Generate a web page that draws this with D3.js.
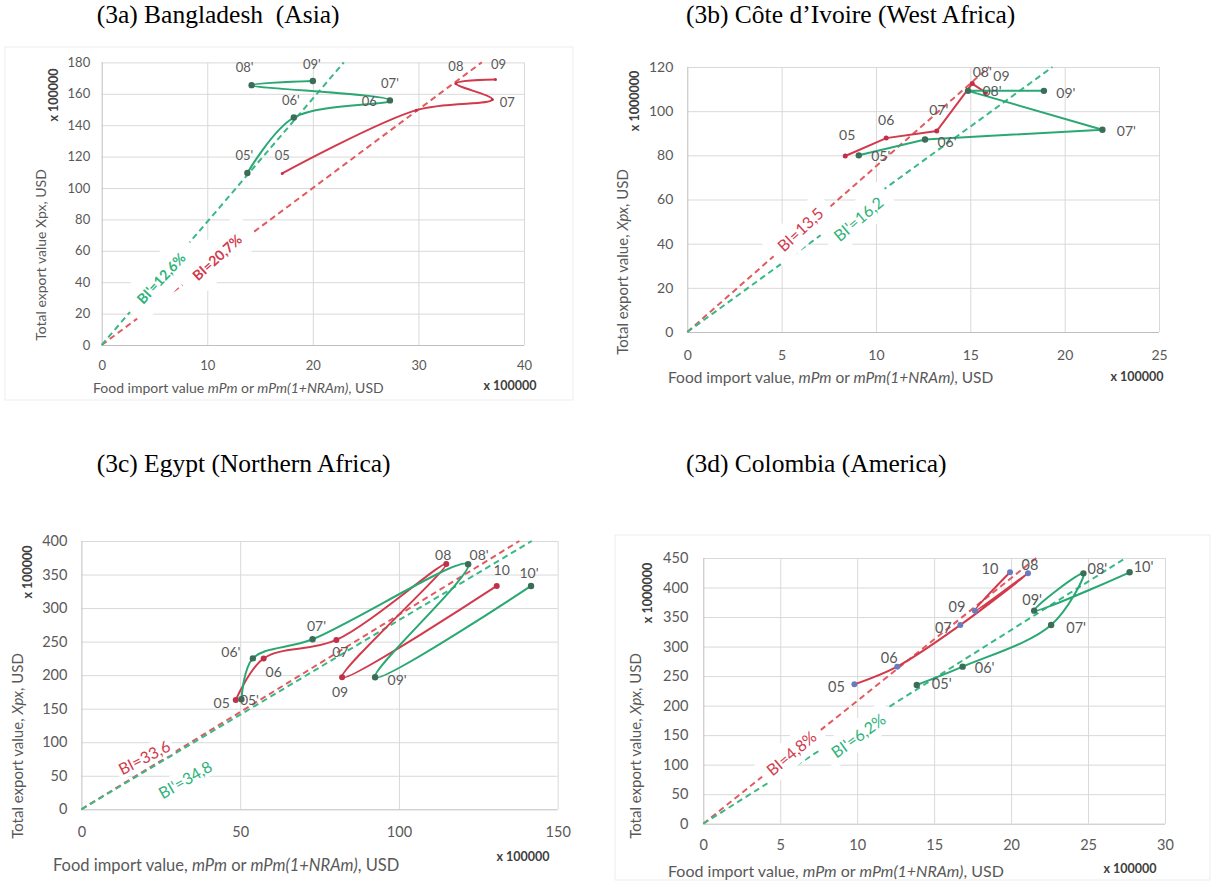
<!DOCTYPE html>
<html>
<head>
<meta charset="utf-8">
<script src="https://cdn.jsdelivr.net/npm/d3@7/dist/d3.min.js"></script>
<style>
  html, body { margin: 0; padding: 0; background: #fff; }
</style>
</head>
<body>
<div id="chart"></div>
<script>
// --- (3a) Bangladesh ---
const bdRedLabels = ["05", "06", "07", "08", "09"];
const bdRedX = [17.1, 29.8, 37.0, 33.55, 37.3];
const bdRedY = [109.3, 149.6, 156.4, 166.6, 169.1];
const bdGreenLabels = ["05'", "06'", "07'", "08'", "09'"];
const bdGreenX = [13.8, 18.2, 27.3, 14.2, 20.0];
const bdGreenY = [109.6, 144.9, 155.8, 165.5, 168.2];
const bdXTicks = [0, 10, 20, 30, 40];
const bdYTicks = [0, 20, 40, 60, 80, 100, 120, 140, 160, 180];
const bdBiSlopes = [5.0, 7.85];           // red BI, green BI'
const bdBiTexts = ["BI=20,7%", "BI'=12,6%"];

// --- (3b) Côte d'Ivoire ---
const ciRedLabels = ["05", "06", "07'", "08'", "09"];
const ciRedX = [8.37, 10.54, 13.22, 15.1, 15.8];
const ciRedY = [79.7, 87.8, 91.0, 112.5, 108.5];
const ciGreenLabels = ["05'", "06'", "07'", "08'", "09'"];
const ciGreenX = [9.09, 12.6, 22.0, 14.88, 18.9];
const ciGreenY = [80.0, 87.2, 91.6, 109.2, 109.2];
const ciXTicks = [0, 5, 10, 15, 20, 25];
const ciYTicks = [0, 20, 40, 60, 80, 100, 120];
const ciBiSlopes = [7.5, 6.2];
const ciBiTexts = ["BI=13,5", "BI'=16,2"];

// --- (3c) Egypt ---
const egRedLabels = ["05", "06", "07", "08", "09", "10"];
const egRedX = [48.6, 57.4, 80.3, 114.9, 82.1, 130.8];
const egRedY = [163, 225, 252.5, 365.8, 196.8, 333];
const egGreenLabels = ["05'", "06'", "07'", "08'", "09'", "10'"];
const egGreenX = [50.4, 54.0, 72.8, 121.8, 92.5, 141.6];
const egGreenY = [164, 225, 253.5, 365.3, 196.8, 333];
const egXTicks = [0, 50, 100, 150];
const egYTicks = [0, 50, 100, 150, 200, 250, 300, 350, 400];
const egBiSlopes = [2.9, 2.82];
const egBiTexts = ["BI=33,6", "BI'=34,8"];

// --- (3d) Colombia ---
const coRedLabels = ["05", "06", "07", "08", "09", "10"];
const coRedX = [9.82, 12.6, 16.7, 21.1, 17.65, 19.93];
const coRedY = [236, 266, 336.5, 424, 360.8, 425.8];
const coGreenLabels = ["05'", "06'", "07'", "08'", "09'", "10'"];
const coGreenX = [13.87, 16.85, 22.6, 24.7, 21.5, 27.7];
const coGreenY = [235, 266, 336.5, 424, 360.8, 425.8];
const coXTicks = [0, 5, 10, 15, 20, 25, 30];
const coYTicks = [0, 50, 100, 150, 200, 250, 300, 350, 400, 450];
const coBiSlopes = [20.8, 16.4];
const coBiTexts = ["BI=4,8%", "BI'=6,2%"];

// --- Styling ---
const FONT = "Lato, 'Open Sans', 'DejaVu Sans', sans-serif";
const SERIF = "'Liberation Serif', 'Times New Roman', serif";
const COLORS = {
  red: "#d23a4c", green: "#2aa874",
  redDash: "#e25a5e", greenDash: "#3ab887",
  redBi: "#d23a4c", greenBi: "#2db37a",
  greenMark: "#3b6e58", label: "#595959",
  grid: "#d9d9d9", axis: "#bfbfbf"
};

const panels = [
  {
    title: "(3a) Bangladesh  (Asia)",
    xTicks: bdXTicks, yTicks: bdYTicks,
    red: { labels: bdRedLabels, x: bdRedX, y: bdRedY },
    green: { labels: bdGreenLabels, x: bdGreenX, y: bdGreenY },
    slopes: bdBiSlopes, biTexts: bdBiTexts,
    xTitle: ["Food import value ", "mPm", " or ", "mPm(1+NRAm)", ", USD"],
    yTitle: ["Total export value Xpx, USD"],
    yMult: "x 100000", xMult: "x 100000",
    L: {
      x0: 101.7, x1: 524, y0: 345, y1: 62.4,
      titleX: 96.7, titleY: 23,
      tickFs: 13, yPad: 11.5, xPad: 16,
      xTitleX: 93, xTitleY: 393, xTitleFs: 14,
      xMultX: 510, xMultY: 390,
      yTitleX: 40, yTitleY: 255, yTitleFs: 14,
      yMultX: 53, yMultY: 95,
      labelFs: 13, redR: 1.5, redMark: "#c0304a",
      curve: d3.curveCatmullRom.alpha(0.5),
      redNudge: [[0, -18], [-47, -9], [15, 3], [0, -17], [3, -16]],
      greenNudge: [[-3, -18], [-3, -18], [0, -17], [-7, -18], [-1, -17]],
      bi: [{ x: 10.9, y: 56, a: 42 }, { x: 5.6, y: 42.6, a: 47 }],
      biFs: 14, biWeight: "bold", biPad: [14, 12],
      frame: [5, 47, 573, 400]
    }
  },
  {
    title: "(3b) Côte d’Ivoire (West Africa)",
    xTicks: ciXTicks, yTicks: ciYTicks,
    red: { labels: ciRedLabels, x: ciRedX, y: ciRedY },
    green: { labels: ciGreenLabels, x: ciGreenX, y: ciGreenY },
    slopes: ciBiSlopes, biTexts: ciBiTexts,
    xTitle: ["Food import value, ", "mPm", " or ", "mPm(1+NRAm)", ", USD"],
    yTitle: ["Total export value, ", "Xpx", ", USD"],
    yMult: "x 1000000", xMult: "x 100000",
    L: {
      x0: 687.3, x1: 1159, y0: 332, y1: 67,
      titleX: 686, titleY: 23,
      tickFs: 14, yPad: 14, xPad: 18,
      xTitleX: 668, xTitleY: 383, xTitleFs: 15.5,
      xMultX: 1137, xMultY: 381,
      yTitleX: 622, yTitleY: 262, yTitleFs: 15,
      yMultX: 634, yMultY: 101,
      labelFs: 14, redR: 2.5, redMark: "#c0304a",
      curve: d3.curveLinear,
      redNudge: [[2, -21], [0, -19], [2, -22], [10, -12], [16, -17]],
      greenNudge: [[22, 0], [22, 2], [24, 1], [24, 0], [22, 2]],
      bi: [{ x: 5.97, y: 46.6, a: 43 }, { x: 9.05, y: 51.4, a: 40 }],
      biFs: 16, biWeight: "normal", biPad: [10, 8],
      frame: null
    }
  },
  {
    title: "(3c) Egypt (Northern Africa)",
    xTicks: egXTicks, yTicks: egYTicks,
    red: { labels: egRedLabels, x: egRedX, y: egRedY },
    green: { labels: egGreenLabels, x: egGreenX, y: egGreenY },
    slopes: egBiSlopes, biTexts: egBiTexts,
    xTitle: ["Food import value, ", "mPm", " or ", "mPm(1+NRAm)", ", USD"],
    yTitle: ["Total export value, ", "Xpx", ", USD"],
    yMult: "x 100000", xMult: "x 100000",
    L: {
      x0: 81.4, x1: 557.7, y0: 809.3, y1: 541,
      titleX: 96.7, titleY: 472,
      tickFs: 14.5, yPad: 14, xPad: 17.5,
      xTitleX: 53, xTitleY: 871, xTitleFs: 16.5,
      xMultX: 523, xMultY: 861,
      yTitleX: 17, yTitleY: 746, yTitleFs: 15,
      yMultX: 27, yMultY: 572,
      labelFs: 14, redR: 3, redMark: "#c0304a",
      curve: d3.curveCatmullRom.alpha(0.5),
      redNudge: [[-14, 3], [10, 13], [4, 12], [-3, -9], [-2, 14], [5, -16]],
      greenNudge: [[8, 0], [-22, -7], [4, -14], [11, -10], [22, 2], [-2, -13]],
      bi: [{ x: 19.7, y: 78, a: 27 }, { x: 32.6, y: 45, a: 30 }],
      biFs: 16, biWeight: "normal", biPad: [3, 2],
      frame: null
    }
  },
  {
    title: "(3d) Colombia (America)",
    xTicks: coXTicks, yTicks: coYTicks,
    red: { labels: coRedLabels, x: coRedX, y: coRedY },
    green: { labels: coGreenLabels, x: coGreenX, y: coGreenY },
    slopes: coBiSlopes, biTexts: coBiTexts,
    xTitle: ["Food import value, ", "mPm", " or ", "mPm(1+NRAm)", ", USD"],
    yTitle: ["Total export value, ", "Xpx", ", USD"],
    yMult: "x 1000000", xMult: "x 100000",
    L: {
      x0: 703.3, x1: 1165, y0: 823.7, y1: 558,
      titleX: 686, titleY: 472,
      tickFs: 14.5, yPad: 15, xPad: 16,
      xTitleX: 668, xTitleY: 877, xTitleFs: 16,
      xMultX: 1130, xMultY: 873,
      yTitleX: 635, yTitleY: 746, yTitleFs: 15,
      yMultX: 647, yMultY: 593,
      labelFs: 14.5, redR: 3, redMark: "#6a7cc0",
      curve: d3.curveCatmullRom.alpha(0.5),
      redNudge: [[-18, 2], [-8, -9], [-17, 2], [2, -9], [-18, -4], [-20, -4]],
      greenNudge: [[25, -1], [22, 1], [25, 2], [14, -5], [-2, -11], [14, -6]],
      bi: [{ x: 5.7, y: 120, a: 40 }, { x: 10.05, y: 150, a: 36 }],
      biFs: 16, biWeight: "normal", biPad: [8, 6],
      frame: [615, 535, 1210, 880]
    }
  }
];

const svg = d3.select("#chart").append("svg")
  .attr("width", 1212).attr("height", 881)
  .style("display", "block");
svg.append("rect").attr("width", 1212).attr("height", 881).attr("fill", "#fff");

function addParts(sel, parts) {
  // every second part is italic (mPm etc.)
  parts.forEach((p, i) => {
    sel.append("tspan").attr("font-style", i % 2 === 1 ? "italic" : "normal").text(p);
  });
}

function drawPanel(p) {
  const L = p.L;
  const x = d3.scaleLinear().domain([0, d3.max(p.xTicks)]).range([L.x0, L.x1]);
  const y = d3.scaleLinear().domain([0, d3.max(p.yTicks)]).range([L.y0, L.y1]);
  const g = svg.append("g");

  if (L.frame) {
    const [fx0, fy0, fx1, fy1] = L.frame;
    g.append("rect").attr("x", fx0).attr("y", fy0)
      .attr("width", fx1 - fx0).attr("height", fy1 - fy0)
      .attr("fill", "none").attr("stroke", "#ededed");
  }

  // Title (keeps the double space of the original)
  g.append("text").attr("x", L.titleX).attr("y", L.titleY)
    .attr("font-family", SERIF).attr("font-size", 25.5).attr("fill", "#000")
    .style("white-space", "pre")
    .text(p.title);

  // Grid + ticks
  const yAx = g.append("g").attr("transform", `translate(${L.x0},0)`)
    .call(d3.axisLeft(y).tickValues(p.yTicks).tickSize(-(L.x1 - L.x0))
      .tickPadding(L.yPad).tickFormat(d3.format("d")));
  const xAx = g.append("g").attr("transform", `translate(0,${L.y0})`)
    .call(d3.axisBottom(x).tickValues(p.xTicks).tickSize(-(L.y0 - L.y1))
      .tickPadding(L.xPad).tickFormat(d3.format("d")));
  [yAx, xAx].forEach(ax => {
    ax.select(".domain").remove();
    ax.attr("font-family", FONT).attr("font-size", L.tickFs);
    ax.selectAll(".tick line").attr("stroke", d => d === 0 ? COLORS.axis : COLORS.grid);
    ax.selectAll(".tick text").attr("fill", COLORS.label);
  });
  xAx.selectAll(".tick").filter(d => d === 0).raise();

  // BI reference lines through origin
  const xMax = d3.max(p.xTicks), yMax = d3.max(p.yTicks);
  const dashCol = [COLORS.redDash, COLORS.greenDash];
  p.slopes.forEach((s, i) => {
    const xe = Math.min(xMax, yMax / s);
    g.append("line")
      .attr("x1", x(0)).attr("y1", y(0))
      .attr("x2", x(xe)).attr("y2", y(s * xe))
      .attr("stroke", dashCol[i]).attr("stroke-width", 2)
      .attr("stroke-dasharray", "6,4");
  });

  // BI labels with white boxes
  const biCol = [COLORS.redBi, COLORS.greenBi];
  const biGroups = L.bi.map(b => g.append("g")
    .attr("transform", `translate(${x(b.x)},${y(b.y)}) rotate(${-b.a})`));
  biGroups.forEach((bg, i) => {
    const tmp = bg.append("text").attr("font-family", FONT).attr("font-size", L.biFs)
      .attr("font-weight", L.biWeight).text(p.biTexts[i]);
    const w = tmp.node().getComputedTextLength();
    tmp.remove();
    bg.append("rect")
      .attr("x", -w / 2 - L.biPad[0]).attr("y", -L.biFs / 2 - L.biPad[1])
      .attr("width", w + 2 * L.biPad[0]).attr("height", L.biFs + 2 * L.biPad[1])
      .attr("fill", "#fff");
  });
  biGroups.forEach((bg, i) => {
    bg.append("text")
      .attr("text-anchor", "middle").attr("dominant-baseline", "central")
      .attr("font-family", FONT).attr("font-size", L.biFs)
      .attr("font-weight", L.biWeight).attr("fill", biCol[i])
      .text(p.biTexts[i]);
  });

  // Series
  const line = d3.line().x(d => x(d.x)).y(d => y(d.y)).curve(L.curve);
  const series = [
    { s: p.red, col: COLORS.red, mark: L.redMark, r: L.redR, nudge: L.redNudge },
    { s: p.green, col: COLORS.green, mark: COLORS.greenMark, r: 3.2, nudge: L.greenNudge }
  ];
  series.forEach(ser => {
    const pts = ser.s.labels.map((lab, i) => ({ x: ser.s.x[i], y: ser.s.y[i], lab }));
    g.append("path").datum(pts).attr("d", line)
      .attr("fill", "none").attr("stroke", ser.col).attr("stroke-width", 2);
    g.selectAll(null).data(pts).enter().append("circle")
      .attr("cx", d => x(d.x)).attr("cy", d => y(d.y)).attr("r", ser.r)
      .attr("fill", ser.mark);
  });
  series.forEach(ser => {
    const pts = ser.s.labels.map((lab, i) => ({ x: ser.s.x[i], y: ser.s.y[i], lab, n: ser.nudge[i] }));
    g.selectAll(null).data(pts).enter().append("text")
      .attr("x", d => x(d.x) + d.n[0]).attr("y", d => y(d.y) + d.n[1])
      .attr("text-anchor", "middle").attr("dominant-baseline", "central")
      .attr("font-family", FONT).attr("font-size", L.labelFs)
      .attr("fill", COLORS.label)
      .text(d => d.lab);
  });

  // Axis titles
  const xt = g.append("text").attr("x", L.xTitleX).attr("y", L.xTitleY)
    .attr("font-family", FONT).attr("font-size", L.xTitleFs).attr("fill", COLORS.label);
  addParts(xt, p.xTitle);
  g.append("text").attr("x", L.xMultX).attr("y", L.xMultY)
    .attr("text-anchor", "middle")
    .attr("font-family", FONT).attr("font-size", 12.5).attr("font-weight", "bold")
    .attr("fill", "#404040").text(p.xMult);

  const yt = g.append("text")
    .attr("transform", `translate(${L.yTitleX},${L.yTitleY}) rotate(-90)`)
    .attr("text-anchor", "middle").attr("dominant-baseline", "central")
    .attr("font-family", FONT).attr("font-size", L.yTitleFs).attr("fill", COLORS.label);
  addParts(yt, p.yTitle);
  g.append("text")
    .attr("transform", `translate(${L.yMultX},${L.yMultY}) rotate(-90)`)
    .attr("text-anchor", "middle").attr("dominant-baseline", "central")
    .attr("font-family", FONT).attr("font-size", 12.5).attr("font-weight", "bold")
    .attr("fill", "#404040").text(p.yMult);
}

panels.forEach(drawPanel);
</script>
</body>
</html>
